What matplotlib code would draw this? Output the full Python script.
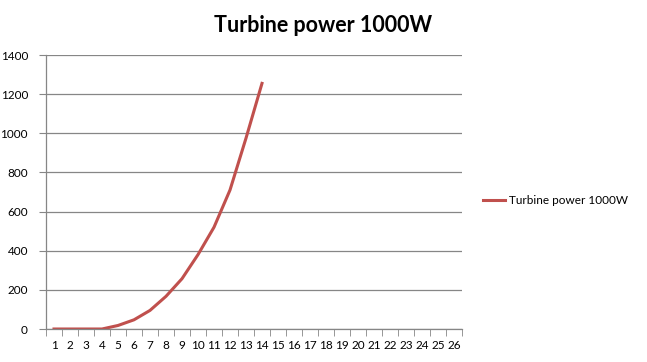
import matplotlib
matplotlib.use("Agg")
from matplotlib import pyplot as plt
import numpy as np

# data
categories = list(range(1, 27))
wind_speed = [1, 2, 3, 4, 5, 6, 7, 8, 9, 10, 11, 12, 13, 14]
power = [0, 0, 0, 0, 18, 47, 95, 167, 257, 380, 520, 710, 975, 1255]
series_name = "Turbine power 1000W"
y_ticks = [0, 200, 400, 600, 800, 1000, 1200, 1400]

grey = "#868686"
plt.rcParams["font.family"] = ["Lato", "DejaVu Sans"]

fig = plt.figure(figsize=(6.47, 3.62), dpi=100)
ax = fig.add_axes([46 / 647, 1 - 329 / 362, 416 / 647, 274 / 362])

ax.plot(wind_speed, power, color="#C0504D", linewidth=2.2, label=series_name)

ax.set_xlim(0.5, 26.5)
ax.set_ylim(0, 1400)
ax.set_yticks(y_ticks)
ax.set_xticks(categories)
ax.set_xticks(np.arange(0.5, 27, 1), minor=True)
ax.tick_params(axis="x", which="major", length=0, pad=8, labelsize=8.5)
ax.tick_params(axis="x", which="minor", length=5, color=grey, direction="out")
ax.tick_params(axis="y", length=5, color=grey, labelsize=8.5, pad=8)
ax.grid(axis="y", color=grey, linewidth=0.9)
ax.set_axisbelow(True)

for side in ["top", "right"]:
    ax.spines[side].set_visible(False)
for side in ["left", "bottom"]:
    ax.spines[side].set_color(grey)
    ax.spines[side].set_linewidth(0.9)

fig.text(0.5, 1 - 25 / 362, "Turbine power 1000W", ha="center", va="center",
         fontsize=15.5, fontweight="bold")
ax.legend(loc="center left", bbox_to_anchor=((483 - 46) / 416, (329 - 201) / 274),
          frameon=False, borderpad=0, borderaxespad=0,
          fontsize=8.5, handlelength=1.9, handletextpad=0.3)

plt.savefig("out.png", dpi=100)
